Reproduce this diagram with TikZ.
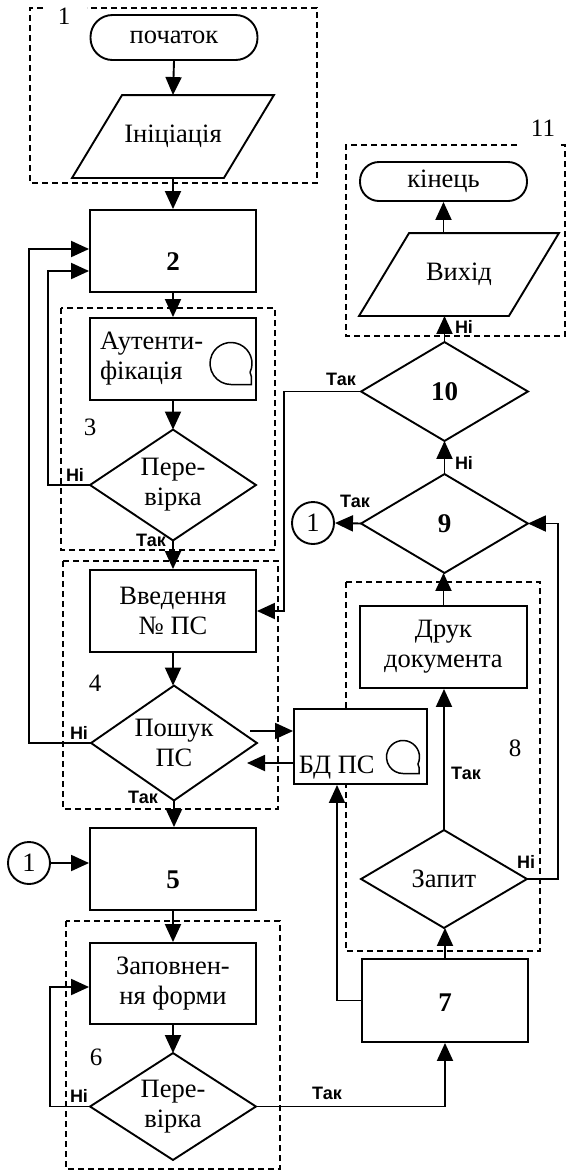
\documentclass[tikz,border=0pt]{standalone}
\usepackage{fontspec}
\setmainfont{Liberation Serif}
\newfontfamily\lsans{Liberation Sans}
\usetikzlibrary{arrows.meta,calc}
\newcommand\drawdia[1]{\draw[line join=miter] (#1.north) -- (#1.east) -- (#1.south) -- (#1.west) -- cycle;}
\newcommand\drawpar[1]{\draw[line join=miter] ($(#1.north west)+(50,0)$) -- (#1.north east) -- ($(#1.south east)+(-50,0)$) -- (#1.south west) -- cycle;}
\begin{document}
\begin{tikzpicture}[x=1pt,y=-1pt,line width=1.9pt,
  every node/.style={font=\fontsize{26.5}{30}\selectfont},
  box/.style={draw, fill=white, minimum width=166pt, minimum height=82pt, inner sep=0pt, align=center},
  term/.style={draw, fill=white, minimum width=167pt, inner sep=0pt},
  dnode/.style={minimum width=164pt, inner sep=0pt, align=center},
  pnode/.style={minimum width=200pt, minimum height=81pt, inner sep=0pt},
  conn/.style={draw, circle, minimum size=42pt, inner sep=0pt},
  numf/.style={font=\fontsize{27}{30}\selectfont\bfseries, inner sep=0pt},
  grp/.style={font=\fontsize{25}{30}\selectfont, inner sep=0pt},
  yn/.style={font=\lsans\bfseries\fontsize{18}{20}\selectfont, inner sep=0pt},
  arr/.style={-{Triangle[length=18pt,width=16pt]}},
  dsh/.style={line width=1.5pt, dash pattern=on 6pt off 4pt},
  loopsym/.pic={\begin{scope}[yscale=-1]
     \draw[line width=1.5pt] (-25:#1) arc[start angle=-25, end angle=270, radius=#1]
       -- (0.97*#1,-#1) -- (0.97*#1,-0.62*#1) -- (-25:#1);
   \end{scope}}
]
\useasboundingbox (0,0) rectangle (567,1171);

% dashed group boxes
\draw[dsh] (43,8) -- (30,8) -- (30,183) -- (317,183) -- (317,8) -- (87,8);
\node[grp] (g1) at (64,16) {1};
\draw[dsh] (61,308) rectangle (275,550);
\node[grp] (g3) at (90,427) {3};
\draw[dsh] (63,561) rectangle (278,809);
\node[grp] (g4) at (95,683) {4};
\draw[dsh] (66,921) rectangle (280,1169);
\node[grp] (g6) at (96,1057) {6};
\draw[dsh] (346,582) rectangle (540,951);
\node[grp] (g8) at (515,748) {8};
\draw[dsh] (517,145) -- (346,145) -- (346,336) -- (565,336) -- (565,145) -- (560,145);
\node[grp] (g11) at (543,128) {11};

% left column
\node[term, minimum height=45pt, rounded corners=22pt] (start) at (174,37.5) {початок};
\node[pnode] (init) at (173,136.5) {Ініціація};
\drawpar{init}
\node[box] (b2) at (173,251) {};
\node[numf] (t2) at (173,262) {2};
\node[box, align=left, text width=146pt] (auth) at (173,359) {Аутенти-\\фікація};
\pic at (231,363.5) {loopsym=21};
\node[dnode, minimum height=109pt] (d3) at (173,485) {Пере-\\вірка};
\drawdia{d3}
\node[box] (vved) at (173,611) {Введення\\№ ПС};
\node[dnode, minimum height=113pt] (d4) at (174,743) {Пошук\\ПС};
\drawdia{d4}
\node[box] (b5) at (173,869) {};
\node[numf] (t5) at (173,880) {5};
\node[conn] (c1l) at (29,863) {1};
\node[box, minimum height=81pt] (fill) at (173,983.5) {Заповнен-\\ня форми};
\node[dnode, minimum height=105pt] (d6) at (173,1106.5) {Пере-\\вірка};
\drawdia{d6}

% right column
\node[term, minimum height=39pt, rounded corners=19pt] (end) at (443.5,181.5) {кінець};
\node[pnode, minimum width=198pt] (out) at (459,274.5) {Вихід};
\drawpar{out}
\node[dnode, minimum width=165pt, minimum height=97pt, font=\fontsize{27}{30}\selectfont\bfseries] (d10) at (444.5,391.5) {10};
\drawdia{d10}
\node[dnode, minimum width=165pt, minimum height=97pt, font=\fontsize{27}{30}\selectfont\bfseries] (d9) at (444.5,523.5) {9};
\drawdia{d9}
\node[conn] (c1r) at (313,523) {1};
\node[box, minimum width=167pt] (print) at (443.5,647) {Друк\\документа};
\node[draw, fill=white, minimum width=133pt, minimum height=75pt, inner sep=0pt] (bd) at (360.5,746.5) {};
\node[anchor=base west, inner sep=0pt] (bdt) at (298,773) {БД ПС};
\pic at (403,757) {loopsym=16.5};
\node[dnode, minimum height=96pt] (zap) at (444,879) {Запит};
\drawdia{zap}
\node[box, minimum height=83pt] (b7) at (445,1000.5) {};
\node[numf] (t7) at (445,1003) {7};

% connectors
\draw[arr] (start.south) -- (init.north);
\draw[arr] (init.south) -- (b2.north);
\draw[arr] (b2.south) -- (auth.north);
\draw[arr] (auth.south) -- (d3.north);
\draw[arr] (d3.south) -- (vved.north);
\draw[arr] (vved.south) -- (vved.south |- d4.north);
\draw[arr] (d4.south) -- (d4.south |- b5.north);
\draw[arr] (b5.south) -- (fill.north);
\draw[arr] (fill.south) -- (d6.north);
\draw[arr] (c1l.east) -- (c1l.east -| b5.west);

\draw[arr] (d3.west) -- ++(-42,0) |- ($(b2.west)+(0,20)$);
\draw[arr] (d4.west) -- ++(-62,0) |- ($(b2.west)+(0,-2)$);
\draw[arr] (d6.west) -- ++(-40,0) |- ($(fill.west)+(0,3.5)$);

\coordinate (p1) at (250,731);
\coordinate (p2) at (247,763);
\draw[arr] (p1) -- (p1 -| bd.west);
\draw[arr] (p2 -| bd.west) -- (p2);

\draw[arr] (d6.east) -| (b7.south);
\draw[arr] (b7.north) -- (b7.north |- zap.south);
\coordinate (bdin) at ($(bd.south)+(-23.5,0)$);
\draw[arr] (b7.west) -| (bdin);
\draw[arr] (zap.north) -- (zap.north |- print.south);
\draw[arr] (zap.east) -- ++(31,0) |- (d9.east);
\draw[arr] (print.north) -- (print.north |- d9.south);
\draw[arr] (d9.north) -- (d10.south);
\draw[arr] (d9.west) -- (c1r.east);
\draw[arr] (d10.west) -- ++(-77,0) |- (vved.east);
\draw[arr] (d10.north) -- (d10.north |- out.south);
\draw[arr] (end.south |- out.north) -- (end.south);

% yes/no labels
\node[yn] (l1) at (75,475) {Ні};
\node[yn] (l2) at (151,540) {Так};
\node[yn] (l3) at (79,733) {Ні};
\node[yn] (l4) at (143,797) {Так};
\node[yn] (l5) at (79,1096) {Ні};
\node[yn] (l6) at (327,1093) {Так};
\node[yn] (l7) at (526,862) {Ні};
\node[yn] (l8) at (466,773) {Так};
\node[yn] (l9) at (355,501) {Так};
\node[yn] (l10) at (464,463) {Ні};
\node[yn] (l11) at (341,379) {Так};
\node[yn] (l12) at (464,327) {Ні};
\end{tikzpicture}
\end{document}
